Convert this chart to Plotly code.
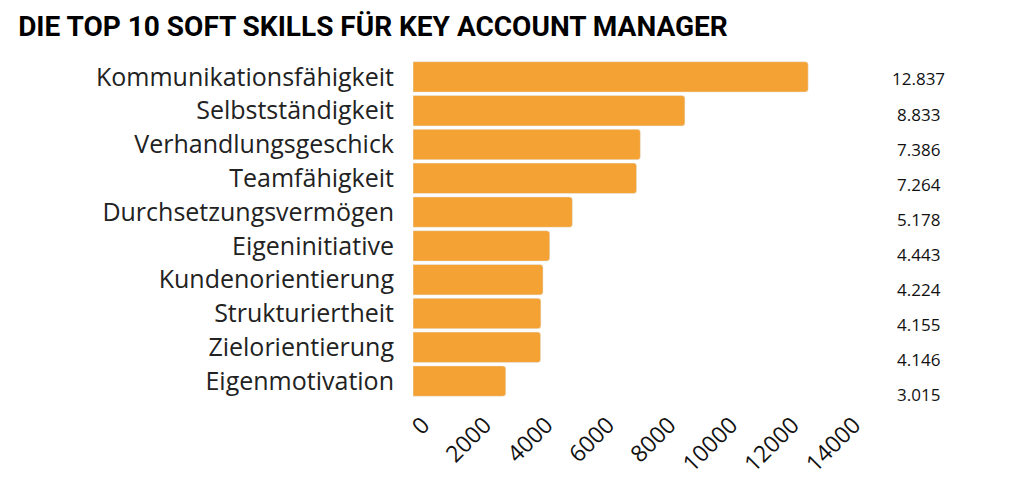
import plotly.graph_objects as go

skills = ["Kommunikationsfähigkeit", "Selbstständigkeit", "Verhandlungsgeschick",
          "Teamfähigkeit", "Durchsetzungsvermögen", "Eigeninitiative",
          "Kundenorientierung", "Strukturiertheit", "Zielorientierung", "Eigenmotivation"]
counts = [12837, 8833, 7386, 7264, 5178, 4443, 4224, 4155, 4146, 3015]
x_ticks = [0, 2000, 4000, 6000, 8000, 10000, 12000, 14000]

fig = go.Figure(go.Bar(
    x=counts,
    y=skills,
    orientation="h",
    width=0.9,
    marker=dict(color="#F4A233", cornerradius=3),
    hoverinfo="x+y"))

# Zahlen rechts neben dem Diagramm (deutsches Tausendertrennzeichen)
labels = []
for i, v in enumerate(counts):
    labels.append(dict(
        text=f"{v:,}".replace(",", "."),
        xref="paper", yref="paper",
        x=1.174, y=1 - (19 + i * 35.1) / 338,
        xanchor="center", yanchor="middle",
        showarrow=False,
        font=dict(family="Open Sans", size=17, color="#111111")))

fig.update_layout(
    width=1014, height=489,
    margin=dict(l=405, r=178, t=52, b=99),
    paper_bgcolor="white",
    plot_bgcolor="white",
    showlegend=False,
    bargap=0.1,
    title=dict(
        text="<b>DIE TOP 10 SOFT SKILLS FÜR KEY ACCOUNT MANAGER</b>",
        x=0.01, xanchor="left",
        y=0.963, yanchor="middle",
        font=dict(family="Roboto", size=28, color="#000000")),
    annotations=labels,
    xaxis=dict(
        range=[0, 14000],
        tickvals=x_ticks,
        ticktext=[str(t) for t in x_ticks],
        tickangle=-45,
        ticklabelshift=10,
        ticklabelstandoff=8,
        showgrid=False,
        zeroline=False,
        showline=False,
        automargin=False,
        tickfont=dict(family="Open Sans", size=23, color="#111111")),
    yaxis=dict(
        autorange="reversed",
        showgrid=False,
        automargin=False,
        ticks="outside", ticklen=13, tickcolor="white",
        tickfont=dict(family="Open Sans", size=25, color="#222222")))

fig.write_html("out.html")
